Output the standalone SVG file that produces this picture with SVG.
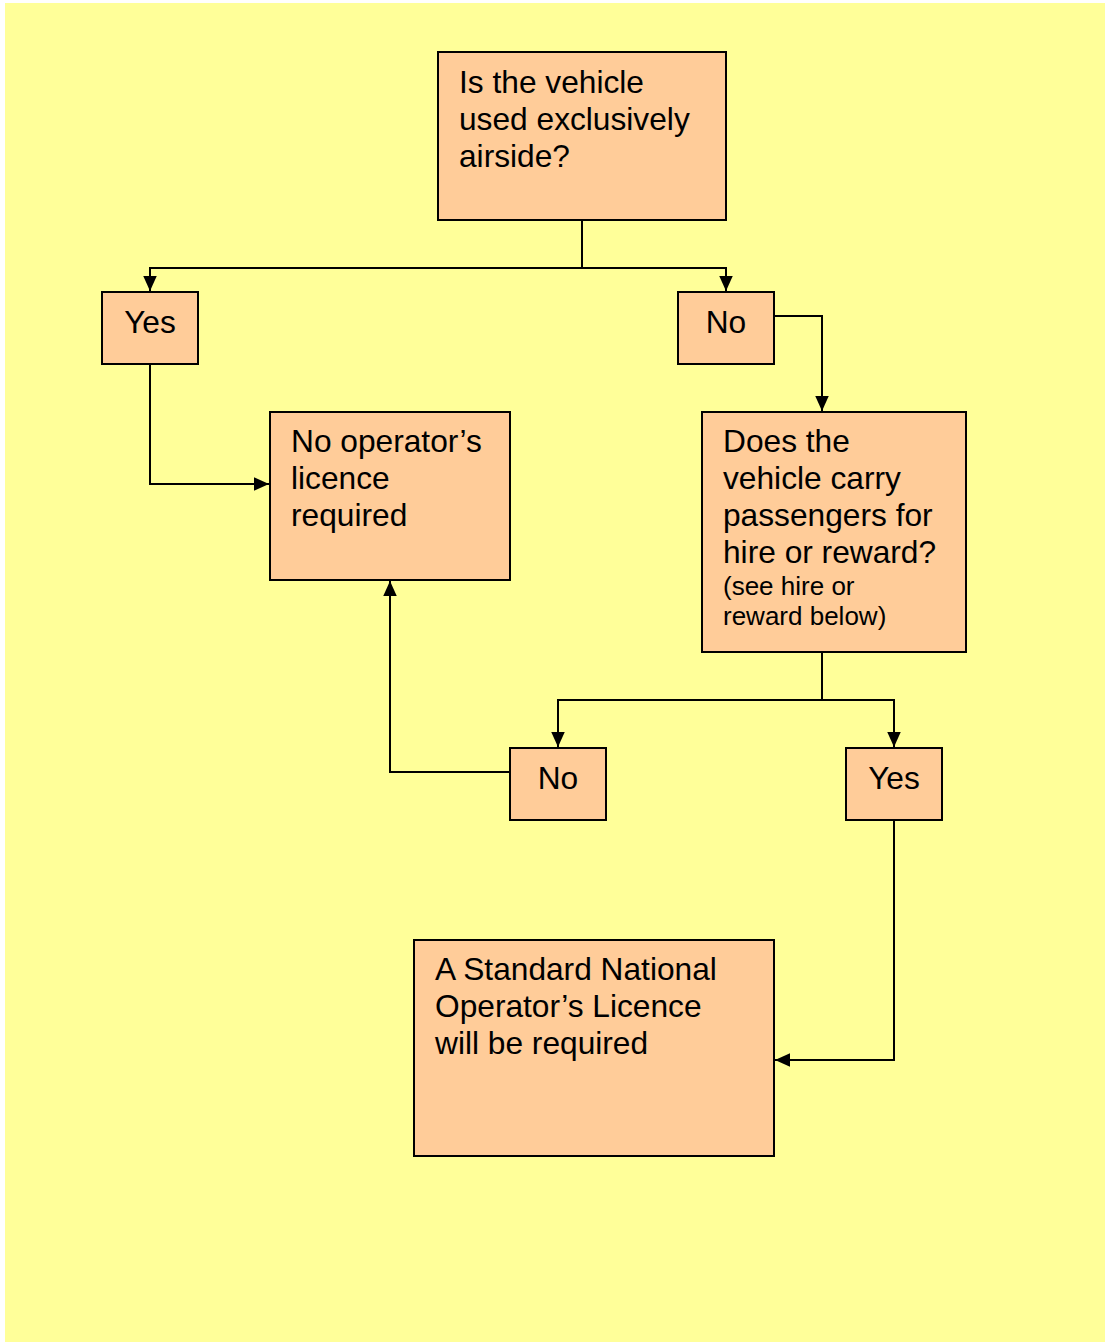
<svg xmlns="http://www.w3.org/2000/svg" width="1105" height="1342" viewBox="0 0 1105 1342">
  <style>
    .box { fill: #FFCC99; stroke: #000; stroke-width: 2; }
    .t { font-family: "Liberation Sans", Arial, sans-serif; font-size: 31.7px; fill: #000; }
    .s { font-family: "Liberation Sans", Arial, sans-serif; font-size: 26px; fill: #000; }
    .c { text-anchor: middle; }
    .link { fill: none; stroke: #000; stroke-width: 2; }
  </style>
  <defs>
    <marker id="arrow" viewBox="0 0 10 10" refX="10" refY="5" markerWidth="15" markerHeight="15" markerUnits="userSpaceOnUse" orient="auto">
      <path d="M0,0.5 L10,5 L0,9.5 Z" fill="#000"/>
    </marker>
  </defs>
  <rect x="0" y="0" width="1105" height="1342" fill="#FFFFFF"/>
  <rect x="5" y="3" width="1100" height="1339" fill="#FFFF99"/>

  <g id="connectors">
    <path class="link" d="M582,220 V268"/>
    <path class="link" d="M582,268 H150 V291" marker-end="url(#arrow)"/>
    <path class="link" d="M582,268 H726 V291" marker-end="url(#arrow)"/>
    <path class="link" d="M150,364 V484 H269" marker-end="url(#arrow)"/>
    <path class="link" d="M774,316 H822 V411" marker-end="url(#arrow)"/>
    <path class="link" d="M822,652 V700"/>
    <path class="link" d="M822,700 H558 V747" marker-end="url(#arrow)"/>
    <path class="link" d="M822,700 H894 V747" marker-end="url(#arrow)"/>
    <path class="link" d="M510,772 H390 V581" marker-end="url(#arrow)"/>
    <path class="link" d="M894,820 V1060 H775" marker-end="url(#arrow)"/>
  </g>

  <g id="q-airside">
    <rect class="box" x="438" y="52" width="288" height="168"/>
    <text class="t" x="459" y="93">Is the vehicle</text>
    <text class="t" x="459" y="130">used exclusively</text>
    <text class="t" x="459" y="167">airside?</text>
  </g>

  <g id="yes-airside">
    <rect class="box" x="102" y="292" width="96" height="72"/>
    <text class="t c" x="150" y="333">Yes</text>
  </g>

  <g id="no-airside">
    <rect class="box" x="678" y="292" width="96" height="72"/>
    <text class="t c" x="726" y="333">No</text>
  </g>

  <g id="no-licence">
    <rect class="box" x="270" y="412" width="240" height="168"/>
    <text class="t" x="291" y="452">No operator’s</text>
    <text class="t" x="291" y="489">licence</text>
    <text class="t" x="291" y="526">required</text>
  </g>

  <g id="q-hire">
    <rect class="box" x="702" y="412" width="264" height="240"/>
    <text class="t" x="723" y="452">Does the</text>
    <text class="t" x="723" y="489">vehicle carry</text>
    <text class="t" x="723" y="526">passengers for</text>
    <text class="t" x="723" y="563">hire or reward?</text>
    <text class="s" x="723" y="595">(see hire or</text>
    <text class="s" x="723" y="625">reward below)</text>
  </g>

  <g id="no-hire">
    <rect class="box" x="510" y="748" width="96" height="72"/>
    <text class="t c" x="558" y="789">No</text>
  </g>

  <g id="yes-hire">
    <rect class="box" x="846" y="748" width="96" height="72"/>
    <text class="t c" x="894" y="789">Yes</text>
  </g>

  <g id="standard-licence">
    <rect class="box" x="414" y="940" width="360" height="216"/>
    <text class="t" x="435" y="980">A Standard National</text>
    <text class="t" x="435" y="1017">Operator’s Licence</text>
    <text class="t" x="435" y="1054">will be required</text>
  </g>
</svg>
